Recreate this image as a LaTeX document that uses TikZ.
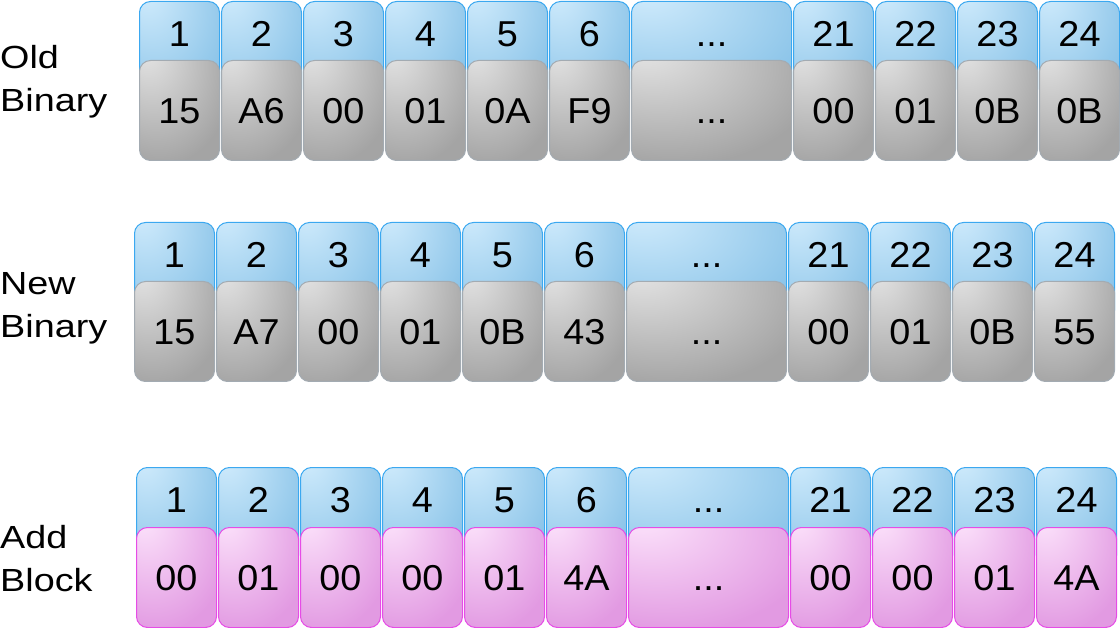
\documentclass[tikz,border=0pt]{standalone}
\usepackage{fontspec}
\setmainfont{Liberation Sans}[FakeStretch=1.05]
\newfontfamily\labelfont{Liberation Sans}[FakeStretch=1.18]

\definecolor{idxlt}{HTML}{D3EDFD}
\definecolor{idxdk}{HTML}{86C1E7}
\definecolor{idxline}{HTML}{3BA8F0}
\definecolor{vallt}{HTML}{E6E6E6}
\definecolor{valdk}{HTML}{A4A4A4}
\definecolor{valline}{HTML}{A3ABB2}
\definecolor{addlt}{HTML}{FDE6FC}
\definecolor{adddk}{HTML}{E29AE2}
\definecolor{addline}{HTML}{E64CE6}

\pgfdeclareradialshading{idxgloss}{\pgfpoint{-22bp}{32bp}}{color(0bp)=(idxlt); color(48bp)=(idxdk); color(100bp)=(idxdk)}
\pgfdeclareradialshading{valgloss}{\pgfpoint{-22bp}{32bp}}{color(0bp)=(vallt); color(45bp)=(valdk); color(100bp)=(valdk)}
\pgfdeclareradialshading{addgloss}{\pgfpoint{-22bp}{32bp}}{color(0bp)=(addlt); color(45bp)=(adddk); color(100bp)=(adddk)}

\newcommand{\gapdots}{...}

\tikzset{
  cellbase/.style={anchor=north west, rounded corners=11pt, line width=1pt,
    inner sep=0pt, font=\fontsize{36}{40}\selectfont},
  idxbox/.style={cellbase, draw=idxline, shading=idxgloss,
    minimum height=99pt, text height=26pt, text depth=35pt},
  valbox/.style={cellbase, draw=valline, shading=valgloss,
    minimum height=100pt, text height=26pt, text depth=0pt},
  addbox/.style={valbox, draw=addline, shading=addgloss},
  rowlabel/.style={anchor=base west, align=left, inner sep=0pt,
    font=\labelfont\fontsize{32}{43}\selectfont}
}

\begin{document}
\begin{tikzpicture}[x=1pt, y=-1pt]
  \useasboundingbox (0,0) rectangle (1120,628);

  \node[rowlabel] (oldlbl) at (0,112) {Old\\Binary};
  \node[rowlabel] (newlbl) at (0,338) {New\\Binary};
  \node[rowlabel] (addlbl) at (0,591) {Add\\Block};

  % one column per entry: offset / width / index / old / new / add
  \foreach \k/\dx/\w/\n/\a/\b/\c in {
      1/0/80/1/15/15/00, 2/82/80/2/A6/A7/01, 3/164/80/3/00/00/00,
      4/246/80/4/01/01/00, 5/328/80/5/0A/0B/01, 6/410/80/6/F9/43/4A,
      gap/492/160/\gapdots/\gapdots/\gapdots/\gapdots,
      21/654/80/21/00/00/00, 22/736/80/22/01/01/00,
      23/818/80/23/0B/0B/01, 24/900/80/24/0B/55/4A} {
    \node[idxbox, minimum width=\w pt] (o\k) at (139+\dx,1) {\n};
    \node[valbox, minimum width=\w pt] (ov\k) at (139+\dx,60) {\a};
    \node[idxbox, minimum width=\w pt] (n\k) at (134+\dx,222) {\n};
    \node[valbox, minimum width=\w pt] (nv\k) at (134+\dx,281) {\b};
    \node[idxbox, minimum width=\w pt] (a\k) at (136+\dx,467) {\n};
    \node[addbox, minimum width=\w pt] (av\k) at (136+\dx,527) {\c};
  }
\end{tikzpicture}
\end{document}
